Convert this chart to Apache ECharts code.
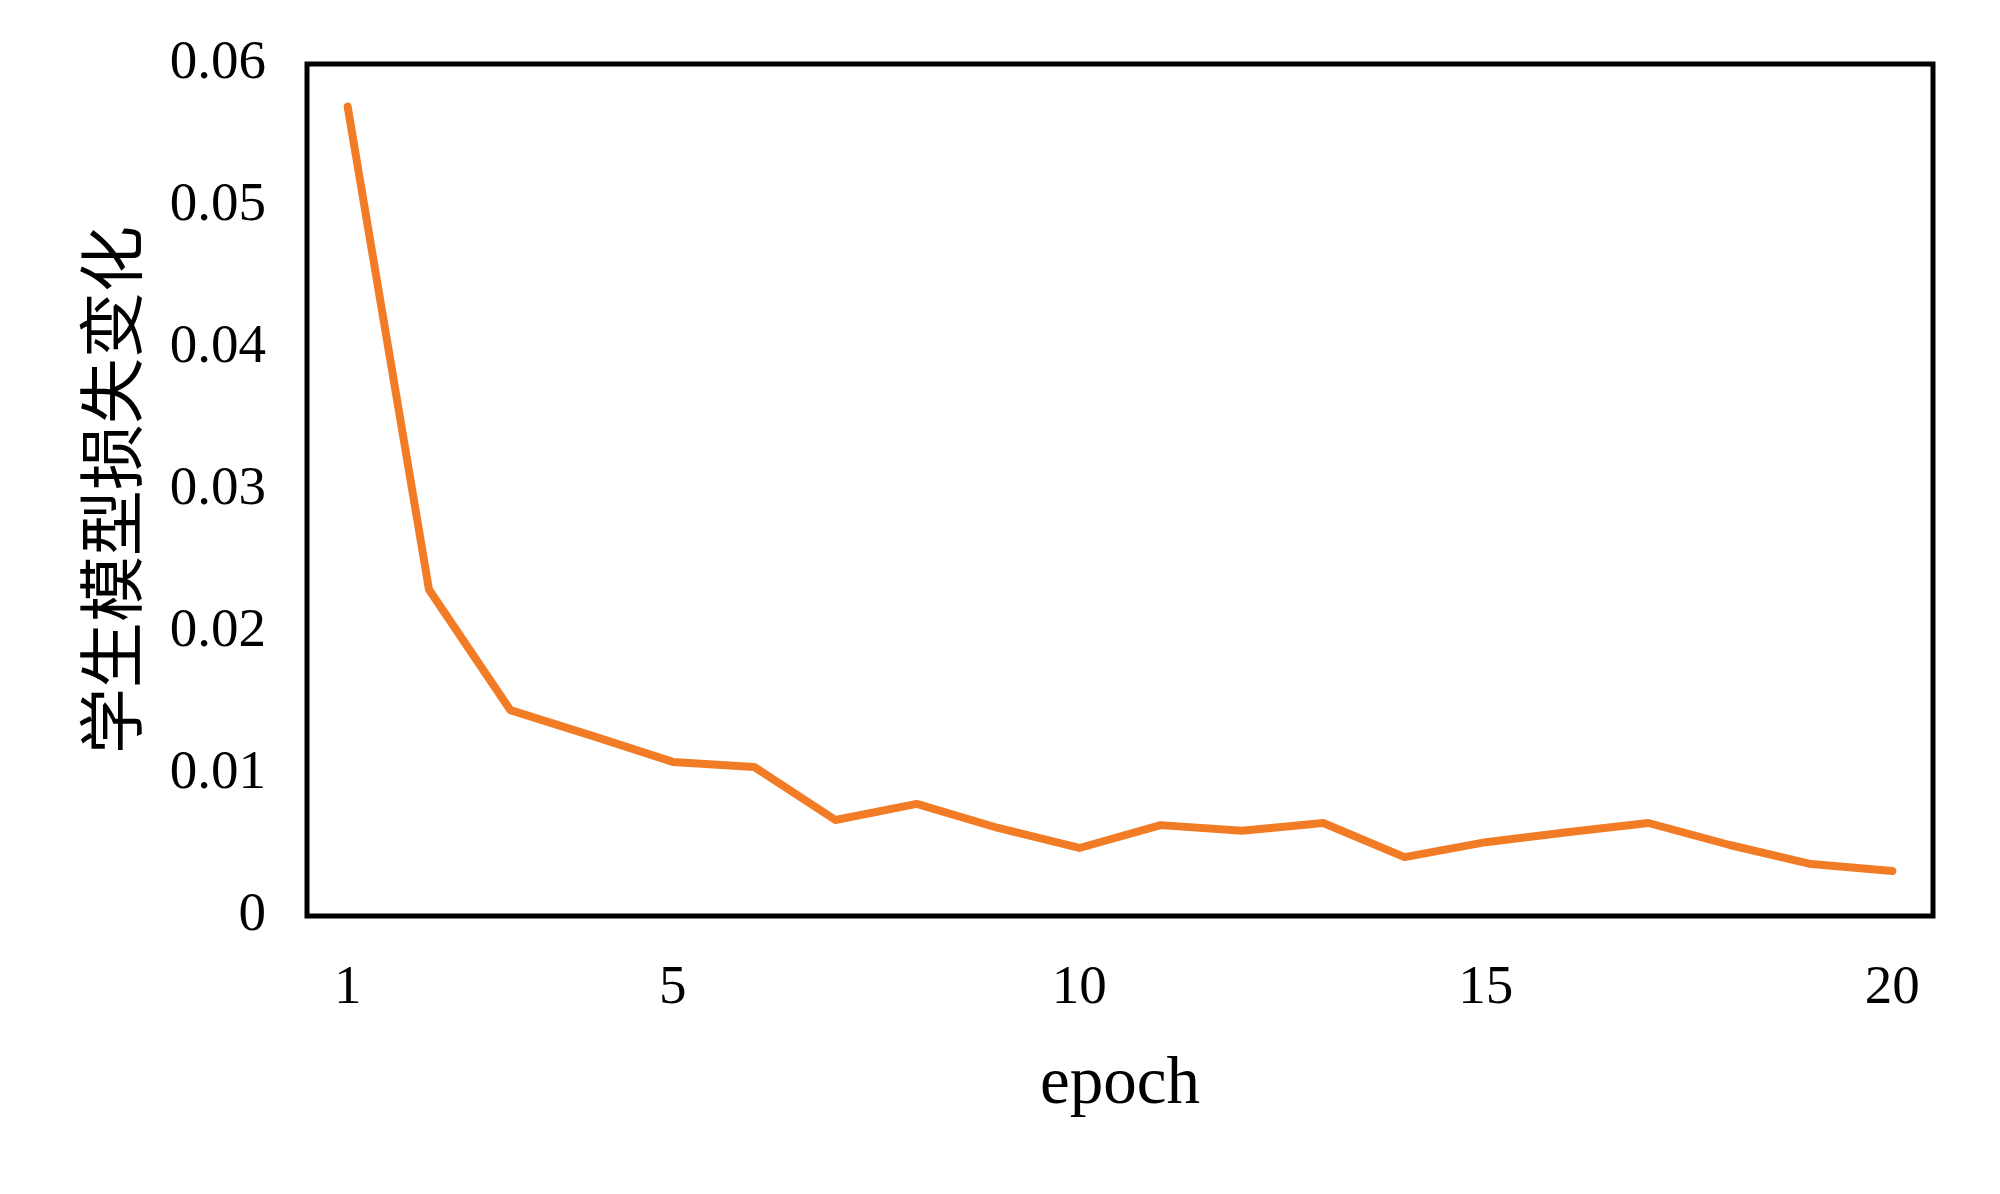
<!DOCTYPE html>
<html>
<head>
<meta charset="utf-8">
<script src="https://cdn.jsdelivr.net/npm/echarts@6/dist/echarts.min.js"></script>
<style>
  html, body { margin: 0; padding: 0; background: #fff; }
  #chart { width: 2000px; height: 1194px; }
</style>
</head>
<body>
<div id="chart"></div>
<script>
const epochs = ['1','2','3','4','5','6','7','8','9','10','11','12','13','14','15','16','17','18','19','20'];
const lossValues = [0.0570, 0.0230, 0.0145, 0.0127, 0.01085, 0.0105, 0.00676, 0.0079, 0.0062, 0.00479,
                    0.0064, 0.0060, 0.00655, 0.00415, 0.0052, 0.0059, 0.00655, 0.0050, 0.00366, 0.00317];
const shownTickIndices = [0, 4, 9, 14, 19];
const yName = '学生模型损失变化';
const xName = 'epoch';

const serif = '"Liberation Serif", "Times New Roman", serif';
const chart = echarts.init(document.getElementById('chart'));
chart.setOption({
  backgroundColor: '#ffffff',
  animation: false,
  grid: {
    left: 307, top: 64, right: 67, bottom: 278,
    show: true, borderColor: '#000000', borderWidth: 5, backgroundColor: 'transparent'
  },
  xAxis: {
    type: 'category',
    data: epochs,
    boundaryGap: true,
    name: xName,
    nameLocation: 'middle',
    nameGap: 136,
    nameTextStyle: { fontFamily: serif, fontSize: 67, color: '#000' },
    axisLine: { show: false },
    axisTick: { show: false },
    splitLine: { show: false },
    axisLabel: {
      interval: function (i) { return shownTickIndices.indexOf(i) >= 0; },
      margin: 45,
      fontFamily: serif, fontSize: 55, color: '#000'
    }
  },
  yAxis: {
    type: 'value',
    min: 0, max: 0.06, interval: 0.01,
    name: yName,
    nameLocation: 'middle',
    nameGap: 163,
    nameRotate: 90,
    nameTextStyle: {
      fontFamily: '"Noto Sans CJK SC", sans-serif', fontSize: 66, color: '#000'
    },
    axisLine: { show: false },
    axisTick: { show: false },
    splitLine: { show: false },
    axisLabel: {
      margin: 41,
      fontFamily: serif, fontSize: 55, color: '#000',
      formatter: function (v) { return v === 0 ? '0' : v.toFixed(2); }
    }
  },
  series: [{
    type: 'line',
    data: lossValues,
    symbol: 'none',
    smooth: false,
    lineStyle: { color: '#F27C26', width: 8, cap: 'round', join: 'round' },
    itemStyle: { color: '#F27C26' }
  }]
});
</script>
</body>
</html>
